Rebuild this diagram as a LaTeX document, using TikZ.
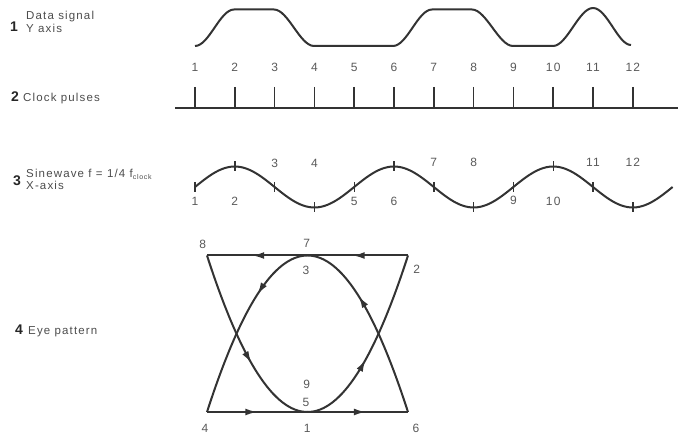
\documentclass[tikz,border=0pt]{standalone}
\usepackage{fontspec}
\setmainfont[LetterSpace=10]{Liberation Sans}
\usepackage{tikz}
\usetikzlibrary{arrows.meta, calc, decorations.markings}

\tikzset{flow/.style={wave, postaction={decorate},
    decoration={markings, mark=at position #1 with {\arrow{Latex[length=12pt,width=7pt]}}}},
  flow/.default=0.5}

\begin{document}
\begin{tikzpicture}[x=1pt, y=-1pt]
    \tikzstyle{txt} = [anchor=base west, inner sep=0pt, text=black!70, font=\fontsize{11.5}{12}\selectfont]
    \tikzstyle{num} = [anchor=base west, inner sep=0pt, text=black!85, font=\fontsize{14}{14}\selectfont\bfseries]
    \tikzstyle{tick} = [anchor=base, inner sep=0pt, text=black!65, font=\fontsize{12}{12}\selectfont]
    \tikzstyle{wave} = [line width=2pt, draw=black!80, line join=round]

    \useasboundingbox (0,0) rectangle (678,435);

    % row labels
    \node (n1)  [num] at (10,31.5)  {1};
    \node (r1a) [txt] at (26,20)    {Data signal};
    \node (r1b) [txt] at (26,33)    {Y axis};
    \node (n2)  [num] at (11,101.7) {2};
    \node (r2)  [txt] at (23,101.7) {Clock pulses};
    \node (n3)  [num] at (13,186)   {3};
    \node (r3a) [txt] at (26,177.5) {Sinewave f = 1/4 f\raisebox{-2pt}{\fontsize{7}{7}\selectfont clock}};
    \node (r3b) [txt] at (26,190)   {X-axis};
    \node (n4)  [num] at (15,335)   {4};
    \node (r4)  [txt] at (28,335)   {Eye pattern};

    % 1: data signal
    \draw [wave] (195,46) .. controls +(14,0) and +(-14,0) .. (234,9.5) -- (274,9.5)
        .. controls +(14,0) and +(-14,0) .. (314,46) -- (393,46)
        .. controls +(14,0) and +(-14,0) .. (432,9.5) -- (472,9.5)
        .. controls +(14,0) and +(-14,0) .. (513,46) -- (553,46)
        .. controls +(14,0) and +(-14,0) .. (593,8)
        .. controls +(14,0) and +(-13,0) .. (631,45);
    \foreach \i in {1,...,12}
        \node (d\i) [tick] at ({195+39.8*(\i-1)},71.5) {\i};

    % 2: clock pulses
    \draw [wave] (175,108) -- (678,108);
    \foreach \i in {0,...,11}
        \draw [wave, line width=1.6pt] ({195+39.8*\i},87) -- ({195+39.8*\i},108);

    % 3: sinewave
    \draw [wave] plot [domain=0:477.6, samples=160, smooth] ({195+\x},{187-20.5*sin(2.2613*\x)});
    \foreach \i in {0,...,11}
        \draw [wave, line width=1.4pt] ({195+39.8*\i},{187-20.5*sin(90*\i)-5}) -- ++(0,10);
    \foreach \i/\yb in {1/206,2/206,3/168,4/168,5/206,6/206,7/167,8/167,9/205,10/206,11/167,12/167}
        \node (s\i) [tick] at ({195+39.8*(\i-1)},\yb) {\i};

    % 4: eye pattern
    \coordinate (tl) at (207,255.5);
    \coordinate (t)  at (307.5,255.5);
    \coordinate (tr) at (408,255.5);
    \coordinate (bl) at (207,412);
    \coordinate (b)  at (307.5,412);
    \coordinate (br) at (408,412);

    \draw [flow=0.55] (tr) -- (t);
    \draw [flow=0.55] (t) -- (tl);
    \draw [flow=0.5]  (bl) -- (b);
    \draw [flow=0.58] (b) -- (br);
    \draw [flow=0.42] (b) .. controls +(33.7,0) and +(-33.7,104.3) .. (tr);
    \draw [flow=0.34] (t) .. controls +(-33.7,0) and +(33.7,-104.3) .. (bl);
    \draw [flow=0.6]  (tl) .. controls +(33.7,104.3) and +(-33.7,0) .. (b);
    \draw [flow=0.65] (br) .. controls +(-33.7,-104.3) and +(33.7,0) .. (t);

    \node (e8) [tick] at (202.7,249) {8};
    \node (e7) [tick] at (306.7,247.5) {7};
    \node (e2) [tick] at (416.7,274) {2};
    \node (e3) [tick] at (306,275) {3};
    \node (e9) [tick] at (306.7,389) {9};
    \node (e5) [tick] at (306,407) {5};
    \node (e4) [tick] at (205,432.5) {4};
    \node (e1) [tick] at (307.3,432.5) {1};
    \node (e6) [tick] at (416,432.5) {6};
\end{tikzpicture}
\end{document}
